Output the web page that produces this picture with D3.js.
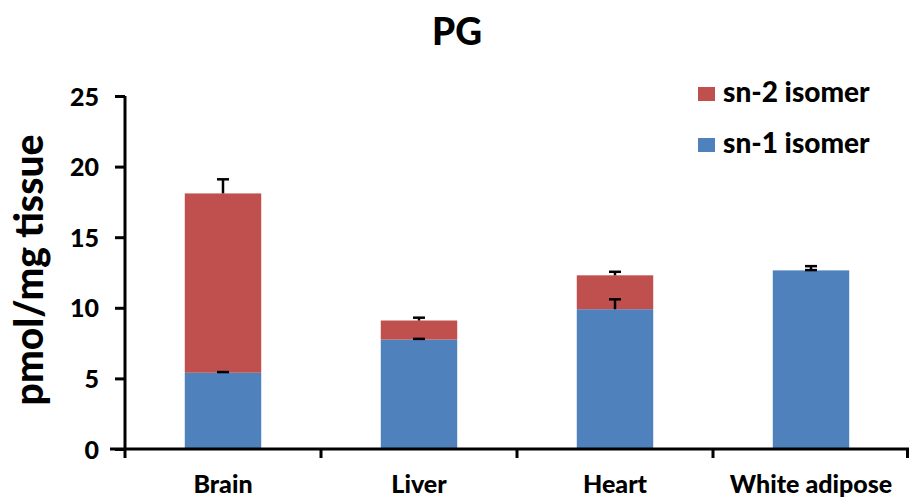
<!DOCTYPE html>
<html>
<head>
<meta charset="utf-8">
<script src="https://cdn.jsdelivr.net/npm/d3@7"></script>
<style>
  body { margin: 0; background: #fff; }
  text { font-family: Lato, "Open Sans", sans-serif; font-weight: 900; fill: #000; }
</style>
</head>
<body>
<div id="main"></div>
<script>
// data
var tissues = ["Brain", "Liver", "Heart", "White adipose"];
var sn1 = [5.4, 7.75, 9.9, 12.65];
var sn2 = [12.7, 1.35, 2.4, 0];
var sn1Err = [0.05, 0.05, 0.7, 0.3];
var sn2Err = [1.0, 0.2, 0.25, 0.02];
var yTicks = [0, 5, 10, 15, 20, 25];

var svg = d3.select("#main").append("svg")
    .attr("width", 909)
    .attr("height", 499);

var x = d3.scaleBand().domain(tissues).range([125, 909]).paddingInner(0).paddingOuter(0);
var y = d3.scaleLinear().domain([0, 25]).range([449, 96]);
var barW = x.bandwidth() * 0.39;

var series = [
  { name: "sn-1 isomer", color: "#4F81BD", base: tissues.map(() => 0), vals: sn1, err: sn1Err },
  { name: "sn-2 isomer", color: "#C0504D", base: sn1, vals: sn2, err: sn2Err }
];

// bars
series.forEach(function(s) {
  svg.append("g").selectAll("rect")
    .data(tissues)
    .enter().append("rect")
    .attr("x", (d) => x(d) + x.bandwidth() / 2 - barW / 2)
    .attr("width", barW)
    .attr("y", (d, i) => y(s.base[i] + s.vals[i]))
    .attr("height", (d, i) => y(s.base[i]) - y(s.base[i] + s.vals[i]))
    .attr("fill", s.color);
});

// error bars (upward only)
series.forEach(function(s) {
  var g = svg.append("g").attr("stroke", "#000").attr("stroke-width", 2.5);
  tissues.forEach(function(d, i) {
    var cx = x(d) + x.bandwidth() / 2;
    var top = s.base[i] + s.vals[i];
    g.append("line").attr("x1", cx).attr("x2", cx)
      .attr("y1", y(top)).attr("y2", y(top + s.err[i]));
    g.append("line").attr("x1", cx - 6).attr("x2", cx + 6)
      .attr("y1", y(top + s.err[i])).attr("y2", y(top + s.err[i]));
  });
});

// y axis
var yAxis = svg.append("g")
    .attr("transform", "translate(125,0)")
    .call(d3.axisLeft(y).tickValues(yTicks).tickSize(10).tickPadding(16));
yAxis.select(".domain").attr("stroke-width", 3).attr("d", "M0," + y(25) + "V" + y(0));
yAxis.selectAll(".tick line").attr("stroke-width", 3);
yAxis.selectAll("text")
    .style("font-size", "25px")
    .style("font-family", "Lato, sans-serif")
    .style("font-weight", "900")
    .attr("dy", "0.36em");

// x axis
var xAxis = svg.append("g").attr("transform", "translate(0,449)");
xAxis.append("line").attr("x1", 110).attr("x2", 909).attr("y1", 0).attr("y2", 0)
    .attr("stroke", "#000").attr("stroke-width", 3);
var bounds = tissues.map((d) => x(d)).concat([x(tissues[3]) + x.bandwidth() - 1.5]);
xAxis.selectAll("line.tk").data(bounds).enter().append("line")
    .attr("x1", (d) => d).attr("x2", (d) => d)
    .attr("y1", 0).attr("y2", 9)
    .attr("stroke", "#000").attr("stroke-width", 3);
xAxis.selectAll("text").data(tissues).enter().append("text")
    .attr("x", (d) => x(d) + x.bandwidth() / 2)
    .attr("y", 44)
    .attr("text-anchor", "middle")
    .style("font-size", "25px")
    .text((d) => d);

// title and axis label
svg.append("text").attr("x", 457).attr("y", 45).attr("text-anchor", "middle")
    .style("font-size", "37px").text("PG");
svg.append("text")
    .attr("transform", "translate(43,270) rotate(-90)")
    .attr("text-anchor", "middle")
    .style("font-size", "39px")
    .text("pmol/mg tissue");

// legend
var legendItems = [series[1], series[0]];
legendItems.forEach(function(s, i) {
  var ly = 87 + i * 51;
  svg.append("rect").attr("x", 698).attr("y", ly).attr("width", 17).attr("height", 14).attr("fill", s.color);
  svg.append("text").attr("x", 723).attr("y", ly + 15).style("font-size", "28px").text(s.name);
});
</script>
</body>
</html>
